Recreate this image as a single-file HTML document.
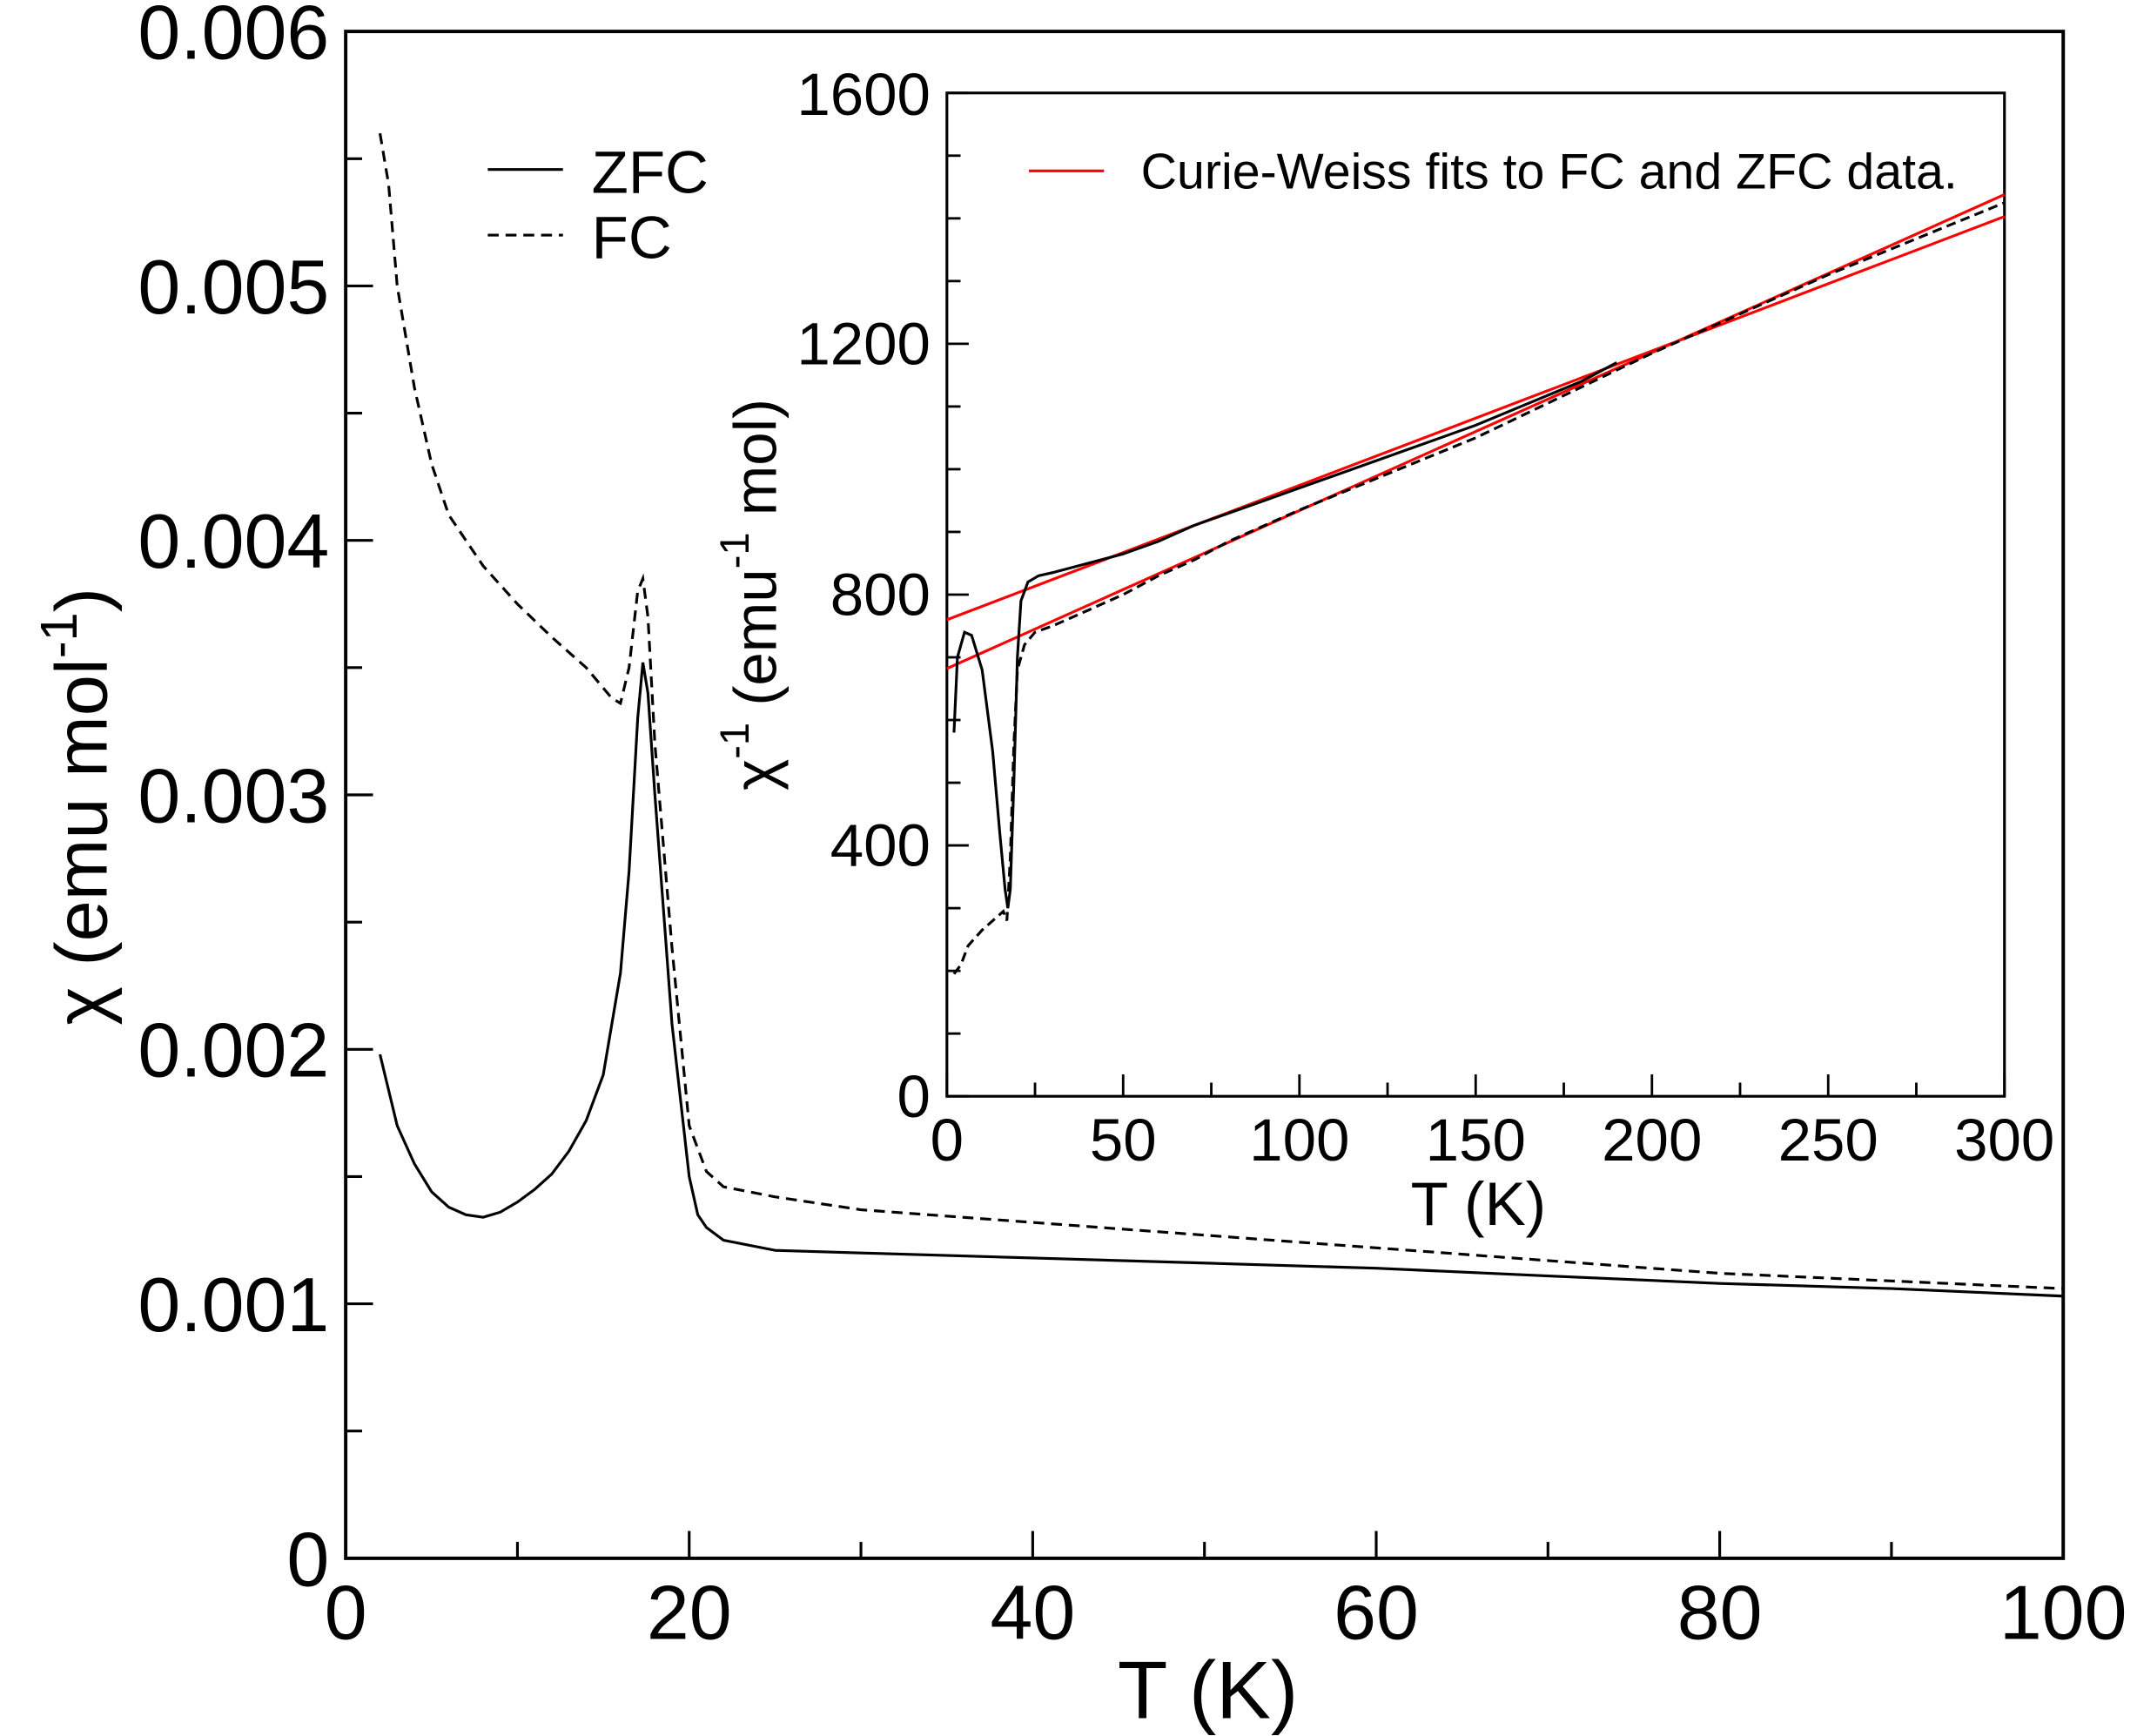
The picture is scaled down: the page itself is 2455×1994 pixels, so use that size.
<!DOCTYPE html>
<html><head><meta charset="utf-8"><style>
html,body{margin:0;padding:0;background:#fff;}
svg{display:block;font-family:"Liberation Sans",Arial,sans-serif;}
</style></head><body>
<svg id="chart" width="2455" height="1994" viewBox="0 0 1564 1270" preserveAspectRatio="none" xmlns="http://www.w3.org/2000/svg">
<rect width="1564" height="1270" fill="#fff"/>
<g id="main"></g>
<g id="inset"></g>
</svg>
<script>
// ---- main plot data ----
const zfcT = [2,3,4,5,6,7,8,9,10,11,12,13,14,15,16,16.5,17,17.3,17.6,18,19,20,20.5,21,22,25,30,40,50,60,70,80,90,100];
const zfcChi = [0.00198,0.0017,0.00155,0.00144,0.00138,0.00135,0.00134,0.00136,0.0014,0.00145,0.00151,0.0016,0.00172,0.0019,0.0023,0.0027,0.0033,0.00352,0.0034,0.003,0.0021,0.0015,0.00135,0.0013,0.00125,0.00121,0.0012,0.00118,0.00116,0.00114,0.00111,0.00108,0.00106,0.00103];
const fcT = [2,2.5,3,4,5,6,8,10,12,14,15.5,16,16.5,17,17.3,17.6,18,19,20,21,22,25,30,40,50,60,70,80,90,100];
const fcChi = [0.0056,0.0054,0.005,0.0046,0.0043,0.0041,0.0039,0.00375,0.00362,0.0035,0.00338,0.00336,0.0035,0.0038,0.00385,0.0037,0.0032,0.0024,0.0017,0.00152,0.00146,0.00142,0.00137,0.00132,0.00127,0.00122,0.00117,0.00112,0.00109,0.00106];
const mainXTicks = [0,20,40,60,80,100];
const mainYTicks = [0,0.001,0.002,0.003,0.004,0.005,0.006];
const mainYLabels = ["0","0.001","0.002","0.003","0.004","0.005","0.006"];
// ---- inset data ----
const invZfcT = [2,3,5,7,10,13,15,16.5,17.3,18,19,20,21,23,26,30,40,50,60,70,80,90,100,120,150,180,190];
const invZfc = [580,700,740,735,680,550,420,330,300,330,500,700,790,820,830,835,850,865,885,910,930,950,970,1010,1070,1140,1170];
const invFcT = [2,4,6,10,14,16,17,18,19,20,22,25,30,40,50,60,70,80,100,150,200,250,300];
const invFc = [195,210,240,265,285,295,280,380,560,680,720,740,750,775,800,830,855,885,935,1050,1185,1310,1425];
const fitT = [0,300];
const fitZfc = [760,1403];
const fitFc = [682,1438];
const insetXTicks = [0,50,100,150,200,250,300];
const insetYTicks = [0,400,800,1200,1600];

const NS="http://www.w3.org/2000/svg";
function mk(parent,tag,attrs,text){const e=document.createElementNS(NS,tag);for(const k in attrs)e.setAttribute(k,attrs[k]);if(text!==undefined)e.textContent=text;parent.appendChild(e);return e;}

// main axes
const M={l:253,r:1510,t:23,b:1140,x0:0,x1:100,y0:0,y1:0.006};
const mx=v=>M.l+(v-M.x0)/(M.x1-M.x0)*(M.r-M.l);
const my=v=>M.b-(v-M.y0)/(M.y1-M.y0)*(M.b-M.t);
const g=document.getElementById('main');
let fr=mk(g,'rect',{x:M.l,y:M.t,width:M.r-M.l,height:M.b-M.t,fill:'none',stroke:'#000','stroke-width':2.5});


for(let v=0;v<=100;v+=10){const maj=v%20===0;let t=mk(g,'line',{x1:mx(v),x2:mx(v),y1:M.b,y2:M.b-(maj?20:12),stroke:'#000','stroke-width':2});

}
for(let i=0;i<=12;i++){const v=i*0.0005;const maj=i%2===0;let t=mk(g,'line',{x1:M.l,x2:M.l+(maj?20:12),y1:my(v),y2:my(v),stroke:'#000','stroke-width':2});

}
mainXTicks.forEach(v=>{let t=mk(g,'text',{x:mx(v),y:M.b+59,'font-size':56,'text-anchor':'middle'},String(v));

});
mainYTicks.forEach((v,i)=>{let t=mk(g,'text',{x:M.l-12,y:my(v)+20,'font-size':56,'text-anchor':'end'},mainYLabels[i]);

});
let xt=mk(g,'text',{x:884,y:1257,'font-size':60,'text-anchor':'middle'},'T (K)');


let yt=mk(g,'text',{transform:'translate(78,590) rotate(-90)','font-size':54,'text-anchor':'middle'});


mk(yt,'tspan',{},'χ (emu mol');mk(yt,'tspan',{dy:-22,'font-size':38},'-1');mk(yt,'tspan',{dy:22},')');
const pts=(xs,ys,fx,fy)=>xs.map((x,i)=>fx(x).toFixed(1)+','+fy(ys[i]).toFixed(1)).join(' ');
let l1=mk(g,'polyline',{points:pts(zfcT,zfcChi,mx,my),fill:'none',stroke:'#000','stroke-width':2});


let l2=mk(g,'polyline',{points:pts(fcT,fcChi,mx,my),fill:'none',stroke:'#000','stroke-width':2,'stroke-dasharray':'8,5'});


// legend
let lg=mk(g,'g',{});


mk(lg,'line',{x1:357,x2:412,y1:124,y2:124,stroke:'#000','stroke-width':2});
let lt1=mk(lg,'text',{x:433,y:141,'font-size':44},'ZFC');


mk(lg,'line',{x1:357,x2:412,y1:172,y2:172,stroke:'#000','stroke-width':2,'stroke-dasharray':'8,5'});
let lt2=mk(lg,'text',{x:433,y:189,'font-size':44},'FC');



// inset
const I={l:693,r:1467,t:68,b:802,x0:0,x1:300,y0:0,y1:1600};
const ix=v=>I.l+(v-I.x0)/(I.x1-I.x0)*(I.r-I.l);
const iy=v=>I.b-(v-I.y0)/(I.y1-I.y0)*(I.b-I.t);
const h=document.getElementById('inset');
let ifr=mk(h,'rect',{x:I.l,y:I.t,width:I.r-I.l,height:I.b-I.t,fill:'#fff',stroke:'#000','stroke-width':2});


for(let v=0;v<=300;v+=25){const maj=v%50===0;let t=mk(h,'line',{x1:ix(v),x2:ix(v),y1:I.b,y2:I.b-(maj?16:10),stroke:'#000','stroke-width':1.8});

}
for(let v=0;v<=1600;v+=100){const maj=v%400===0;let t=mk(h,'line',{x1:I.l,x2:I.l+(maj?16:10),y1:iy(v),y2:iy(v),stroke:'#000','stroke-width':1.8});

}
insetXTicks.forEach(v=>{let t=mk(h,'text',{x:ix(v),y:I.b+47,'font-size':44,'text-anchor':'middle'},String(v));

});
insetYTicks.forEach((v,i)=>{let t=mk(h,'text',{x:I.l-12,y:iy(v)+(i===insetYTicks.length-1?16:15),'font-size':44,'text-anchor':'end'},String(v));

});
let ixt=mk(h,'text',{x:1082,y:896,'font-size':45,'text-anchor':'middle'},'T (K)');


let iyt=mk(h,'text',{transform:'translate(568,435) rotate(-90)','font-size':44,'text-anchor':'middle'});


mk(iyt,'tspan',{},'χ');mk(iyt,'tspan',{dy:-20,'font-size':30},'-1');mk(iyt,'tspan',{dy:20},' (emu');mk(iyt,'tspan',{dy:-20,'font-size':30},'-1');mk(iyt,'tspan',{dy:20},' mol)');
let f1=mk(h,'polyline',{points:pts(fitT,fitZfc,ix,iy),fill:'none',stroke:'#ff0000','stroke-width':2});


let f2=mk(h,'polyline',{points:pts(fitT,fitFc,ix,iy),fill:'none',stroke:'#ff0000','stroke-width':2});


let i1=mk(h,'polyline',{points:pts(invZfcT,invZfc,ix,iy),fill:'none',stroke:'#000','stroke-width':2});


let i2=mk(h,'polyline',{points:pts(invFcT,invFc,ix,iy),fill:'none',stroke:'#000','stroke-width':2,'stroke-dasharray':'7,4'});


mk(h,'line',{x1:753,x2:808,y1:125,y2:125,stroke:'#ff0000','stroke-width':2});
let il=mk(h,'text',{x:835,y:138,'font-size':36.5},'Curie-Weiss fits to FC and ZFC data.');


</script>
</body></html>
